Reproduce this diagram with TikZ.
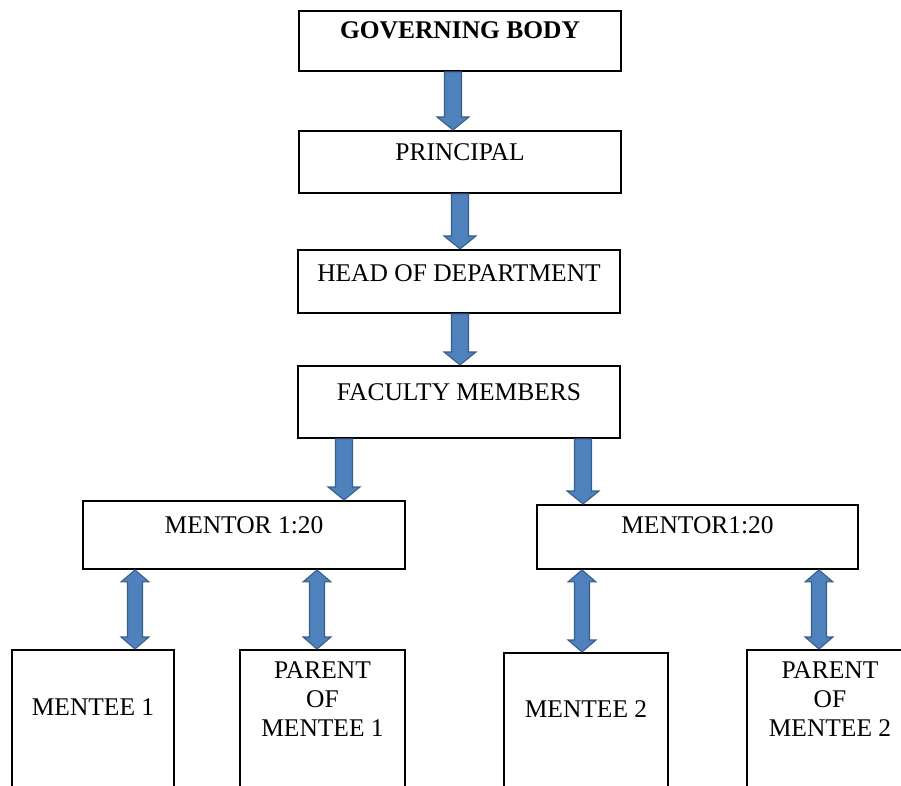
\documentclass[tikz,border=0pt]{standalone}
\usepackage{fontspec}
\setmainfont{Liberation Serif}
\usetikzlibrary{calc}

\definecolor{arrfill}{HTML}{4F81BD}
\definecolor{arrline}{HTML}{385D8A}

\newcommand\downarr[2]{\draw[arr] let \p1=(#1), \p2=(#2) in (\x1-0.17cm,\y1) -- (\x1+0.17cm,\y1) -- (\x1+0.17cm,\y2+0.26cm) -- (\x1+0.32cm,\y2+0.26cm) -- (\x1,\y2) -- (\x1-0.32cm,\y2+0.26cm) -- (\x1-0.17cm,\y2+0.26cm) -- cycle;}
\newcommand\duoarr[2]{\draw[arr] let \p1=(#1), \p2=(#2) in (\x1,\y1) -- (\x1+0.28cm,\y1-0.24cm) -- (\x1+0.15cm,\y1-0.24cm) -- (\x1+0.15cm,\y2+0.24cm) -- (\x1+0.28cm,\y2+0.24cm) -- (\x1,\y2) -- (\x1-0.28cm,\y2+0.24cm) -- (\x1-0.15cm,\y2+0.24cm) -- (\x1-0.15cm,\y1-0.24cm) -- (\x1-0.28cm,\y1-0.24cm) -- cycle;}

\begin{document}
\begin{tikzpicture}[x=0.02cm,y=-0.02cm,
	box/.style={draw,line width=1.1pt,inner sep=0pt,anchor=north,align=center,font=\fontsize{14.5pt}{16.5pt}\selectfont},
	arr/.style={fill=arrfill,draw=arrline,line width=0.6pt,line join=miter}]
	\useasboundingbox (0,0) rectangle (901,786);
	\clip (0,0) rectangle (901,786);
	\node [box,minimum width=6.44cm,text height=0.56cm,text depth=0.64cm] (gb) at (460,10) {\bfseries GOVERNING BODY};
	\node [box,minimum width=6.44cm,text height=0.60cm,text depth=0.64cm] (pr) at (460,130) {PRINCIPAL};
	\node [box,minimum width=6.44cm,text height=0.64cm,text depth=0.62cm] (hod) at (459,249) {HEAD OF DEPARTMENT};
	\node [box,minimum width=6.44cm,text height=0.70cm,text depth=0.74cm] (fac) at (459,365) {FACULTY MEMBERS};
	\node [box,minimum width=6.44cm,text height=0.66cm,text depth=0.70cm] (mentorA) at (244,500) {MENTOR 1:20};
	\node [box,minimum width=6.42cm,text height=0.58cm,text depth=0.70cm] (mentorB) at (697.5,504) {MENTOR1:20};
	\node [box,minimum width=3.24cm,text height=1.32cm,text depth=2.2cm] (menteeA) at (93,649) {MENTEE 1};
	\node [box,minimum width=3.30cm,text height=1.74cm,text depth=1.6cm] (parentA) at (322.5,649) {PARENT\\OF\\MENTEE 1};
	\node [box,minimum width=3.28cm,text height=1.30cm,text depth=2.2cm] (menteeB) at (586,652) {MENTEE 2};
	\node [box,minimum width=3.32cm,text height=1.74cm,text depth=1.6cm] (parentB) at (830,649) {PARENT\\OF\\MENTEE 2};
	\downarr{gb.south -| 453,0}{pr.north -| 453,0}
	\downarr{pr.south -| 460,0}{hod.north -| 460,0}
	\downarr{hod.south -| 460,0}{fac.north -| 460,0}
	\downarr{fac.south -| 344,0}{mentorA.north -| 344,0}
	\downarr{fac.south -| 583,0}{mentorB.north -| 583,0}
	\duoarr{mentorA.south -| 135,0}{menteeA.north -| 135,0}
	\duoarr{mentorA.south -| 317,0}{parentA.north -| 317,0}
	\duoarr{mentorB.south -| 582,0}{menteeB.north -| 582,0}
	\duoarr{mentorB.south -| 819,0}{parentB.north -| 819,0}
\end{tikzpicture}
\end{document}
